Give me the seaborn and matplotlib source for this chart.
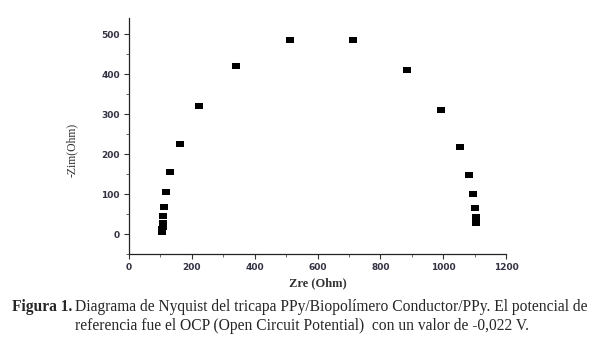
import matplotlib
matplotlib.use("Agg")
import matplotlib.pyplot as plt
import seaborn as sns
import pandas as pd
from matplotlib.ticker import MultipleLocator

zre = [105, 106, 106, 107, 108, 108, 112, 117, 132, 161, 224, 339, 512, 714,
       884, 993, 1053, 1081, 1094, 1101, 1103, 1104]
zim = [4, 7, 12, 18, 28, 44, 67, 104, 154, 226, 319, 419, 486, 484,
       409, 309, 217, 148, 100, 66, 43, 28]
xticks = [0, 200, 400, 600, 800, 1000, 1200]
yticks = [0, 100, 200, 300, 400, 500]

df = pd.DataFrame({"Zre": zre, "Zim": zim})

sns.set_style("ticks")
plt.rcParams['font.family'] = ['DejaVu Sans']

fig = plt.figure(figsize=(6.05, 3.42), dpi=100)
ax = fig.add_axes([129/605, 1-254/342, (506-129)/605, (254-18)/342])

rect = [(-1.45, -1), (1.45, -1), (1.45, 1), (-1.45, 1), (-1.45, -1)]
sns.scatterplot(data=df, x="Zre", y="Zim", ax=ax, marker=rect, s=34,
                color="black", edgecolor="black", linewidth=0)

ax.set_xlim(0, 1200)
ax.set_ylim(-50, 540)
ax.set_xticks(xticks)
ax.set_yticks(yticks)
ax.xaxis.set_minor_locator(MultipleLocator(100))
ax.yaxis.set_minor_locator(MultipleLocator(50))
ax.tick_params(axis="both", which="major", direction="out", length=3.5, width=0.8,
               color="#333333", labelsize=6.5, labelcolor="#333344", pad=3)
ax.tick_params(axis="both", which="minor", direction="out", length=2, width=0.6,
               color="#555555")
for lab in ax.get_xticklabels() + ax.get_yticklabels():
    lab.set_fontweight("bold")
for s in ["top", "right"]:
    ax.spines[s].set_visible(False)
for s in ["left", "bottom"]:
    ax.spines[s].set_linewidth(0.9)
    ax.spines[s].set_color("#222222")

ax.set_xlabel("")
ax.set_ylabel("")
fig.text(318/605, 1-283/342, "Zre (Ohm)", ha="center", va="center",
         fontsize=9, fontweight="bold", family="Liberation Serif", color="#333333")
fig.text(72/605, 1-150/342, "-Zim(Ohm)", ha="center", va="center", rotation=90,
         fontsize=8.5, family="Liberation Serif", color="#333333")

cap_fs = 11.2
t1 = fig.text(12/605, 1-307/342, "Figura 1.", ha="left", va="center",
              fontsize=cap_fs, fontweight="bold", family="Liberation Serif")
fig.canvas.draw()
bb = t1.get_window_extent(renderer=fig.canvas.get_renderer())
fig.text((bb.x1 + 3) / fig.bbox.width, 1-307/342,
         "Diagrama de Nyquist del tricapa PPy/Biopolímero Conductor/PPy. El potencial de",
         ha="left", va="center", fontsize=cap_fs, family="Liberation Serif")
fig.text(302/605, 1-326/342,
         "referencia fue el OCP (Open Circuit Potential)  con un valor de -0,022 V.",
         ha="center", va="center", fontsize=cap_fs, family="Liberation Serif")

fig.savefig("out.png", dpi=100)
